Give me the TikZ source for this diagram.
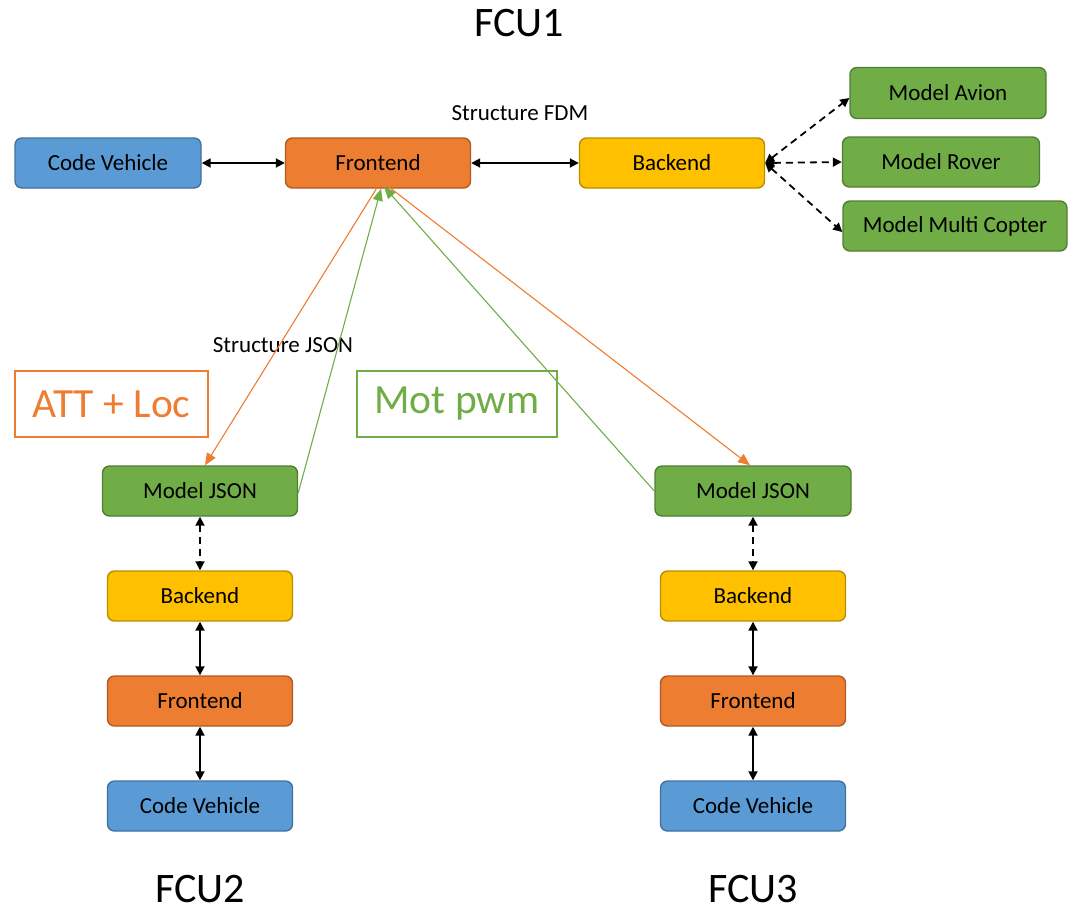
\documentclass[tikz,border=0pt]{standalone}
\usepackage{fontspec}
\setmainfont{Carlito}
\usetikzlibrary{arrows.meta}
\definecolor{cblue}{HTML}{5B9BD5}\definecolor{cblueD}{HTML}{41719C}
\definecolor{corange}{HTML}{ED7D31}\definecolor{corangeD}{HTML}{AE5A21}
\definecolor{cyellow}{HTML}{FFC000}\definecolor{cyellowD}{HTML}{BC8C00}
\definecolor{cgreen}{HTML}{70AD47}\definecolor{cgreenD}{HTML}{507E32}
\tikzset{
  box/.style={rounded corners=7pt, line width=1.4pt, minimum height=50pt, inner sep=0pt,
    font=\fontsize{23}{26}\selectfont, text=black},
  bluebox/.style={box, fill=cblue, draw=cblueD},
  orangebox/.style={box, fill=corange, draw=corangeD},
  yellowbox/.style={box, fill=cyellow, draw=cyellowD},
  greenbox/.style={box, fill=cgreen, draw=cgreenD},
  biarrow/.style={{Triangle[length=9pt,width=9pt]}-{Triangle[length=9pt,width=9pt]}, line width=1.8pt, black},
  dasharrow/.style={biarrow, dash pattern=on 7pt off 5pt},
  thinarrow/.style={-{Triangle[length=12pt,width=10pt]}, line width=1.1pt},
  title/.style={font=\fontsize{42}{46}\selectfont, text=black, inner sep=0pt},
  lbl/.style={font=\fontsize{23}{26}\selectfont, text=black},
  tagbox/.style={draw, line width=2pt, minimum height=66pt, font=\fontsize{41.5}{44}\selectfont, inner sep=0pt}
}
\begin{document}
\begin{tikzpicture}[x=1pt,y=-1pt]
\useasboundingbox (0,0) rectangle (1068,906);
% FCU1
\node[title] (t1) at (519,23) {FCU1};
\node[bluebox, minimum width=186pt] (cv1) at (108,163) {Code Vehicle};
\node[orangebox, minimum width=185pt] (fe1) at (378,163) {Frontend};
\node[yellowbox, minimum width=185pt] (be1) at (672,163) {Backend};
\node[greenbox, minimum width=196pt, minimum height=51pt] (ma) at (948,93) {Model Avion};
\node[greenbox, minimum width=197pt] (mr) at (941,162) {Model Rover};
\node[greenbox, minimum width=224pt] (mm) at (955,226) {Model Multi Copter};
\node[lbl] (sfdm) at (520,113) {Structure FDM};
\draw[biarrow] (cv1) -- (fe1);
\draw[biarrow] (fe1) -- (be1);
\draw[dasharrow] (be1.east) -- ([yshift=-5pt]ma.west);
\draw[dasharrow] (be1.east) -- (mr.west);
\draw[dasharrow] (be1.east) -- ([yshift=-6pt]mm.west);
% FCU2
\node[greenbox, minimum width=195pt] (mj2) at (200,491) {Model JSON};
\node[yellowbox, minimum width=185pt] (be2) at (200,596) {Backend};
\node[orangebox, minimum width=185pt] (fe2) at (200,701) {Frontend};
\node[bluebox, minimum width=185pt] (cv2) at (200,806) {Code Vehicle};
\node[title] (t2) at (200,889) {FCU2};
\draw[dasharrow] (mj2) -- (be2);
\draw[biarrow] (be2) -- (fe2);
\draw[biarrow] (fe2) -- (cv2);
% FCU3
\node[greenbox, minimum width=196pt] (mj3) at (753,491) {Model JSON};
\node[yellowbox, minimum width=185pt] (be3) at (753,596) {Backend};
\node[orangebox, minimum width=185pt] (fe3) at (753,701) {Frontend};
\node[bluebox, minimum width=185pt] (cv3) at (753,806) {Code Vehicle};
\node[title] (t3) at (753,889) {FCU3};
\draw[dasharrow] (mj3) -- (be3);
\draw[biarrow] (be3) -- (fe3);
\draw[biarrow] (fe3) -- (cv3);
% labels
\node[lbl] (sjson) at (283,345) {Structure JSON};
\node[tagbox, draw=corange, text=corange, minimum width=193pt] (att) at (111.5,404) {ATT + Loc};
\node[tagbox, draw=cgreen, text=cgreen, minimum width=200pt] (mot) at (457,404) {Mot pwm};
% cross links
\draw[thinarrow, corange] ([xshift=-1pt,yshift=1pt]fe1.south) -- ([xshift=5pt]mj2.north);
\draw[thinarrow, cgreen] ([yshift=-2pt]mj2.east) -- ([xshift=3pt]fe1.south);
\draw[thinarrow, cgreen] (mj3.west) -- ([xshift=6pt,yshift=2pt]fe1.south);
\draw[thinarrow, corange] ([xshift=8pt,yshift=4pt]fe1.south) -- ([xshift=-3pt]mj3.north);
\end{tikzpicture}
\end{document}
